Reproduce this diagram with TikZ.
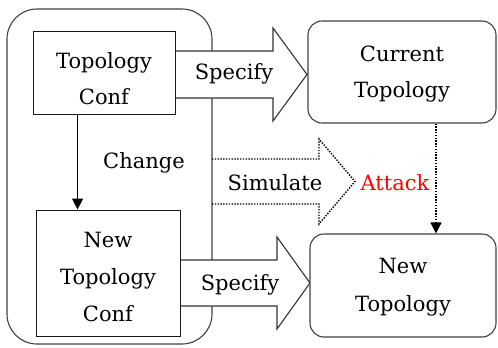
\documentclass[tikz,border=0pt]{standalone}
\usepackage{fontspec}
\newfontfamily\serf{DejaVu Serif}
\usetikzlibrary{arrows.meta}
\begin{document}
\begin{tikzpicture}[x=1pt,y=-1pt,
  line width=0.9pt,
  lbl/.style={font=\serf\fontsize{21}{36}\selectfont, align=center, inner sep=0pt},
  sqbox/.style={draw=black!90, fill=white},
  rbox/.style={draw=black!75, line width=1.1pt, fill=white, rounded corners=14pt},
  bigarrow/.style={draw=black!80, line width=1.1pt, fill=white, line join=miter},
  dotarrow/.style={draw=black, line width=1.4pt, dash pattern=on 1.4pt off 1.4pt},
  tip/.style={-{Triangle[width=11pt,length=11pt]}}
]
\useasboundingbox (0,0) rectangle (498,348);
% container
\draw[draw=black!75, line width=1.1pt, rounded corners=30pt] (7,9) rectangle (212,344);
% big arrows
\draw[bigarrow] (175,51) -- (273,51) -- (273,28) -- (307,74.5) -- (273,121) -- (273,98) -- (175,98) -- cycle;
\draw[bigarrow] (180,260) -- (277,260) -- (277,237) -- (310,283) -- (277,329) -- (277,306) -- (180,306) -- cycle;
\draw[dotarrow] (212,159) -- (319,159) -- (319,139) -- (355,181.5) -- (319,224) -- (319,204) -- (212,204);
% boxes
\node[sqbox, minimum width=142pt, minimum height=83pt] (tc) at (104,72.5) {};
\node[sqbox, minimum width=144pt, minimum height=126pt] (ntc) at (108,273) {};
\node[rbox, minimum width=188pt, minimum height=102pt] (ct) at (402,72) {};
\node[rbox, minimum width=186pt, minimum height=103pt] (nt) at (403,285.5) {};
% box texts
\node[lbl] (tct) at ([yshift=-6pt]tc.center) {Topology\\Conf};
\node[lbl, font=\serf\fontsize{21}{37}\selectfont] (ntct) at ([yshift=-4pt]ntc.center) {New\\Topology\\Conf};
\node[lbl] (ctt) at ([yshift=-2pt]ct.center) {Current\\Topology};
\node[lbl, font=\serf\fontsize{21}{38}\selectfont] (ntt) at ([yshift=-2pt]nt.center) {New\\Topology};
% labels
\node[lbl] (sp1) at (234,74) {Specify};
\node[lbl] (sp2) at (240,285) {Specify};
\node[lbl] (sim) at (275,183) {Simulate};
\node[lbl, text=red] (att) at (395,183) {Attack};
\node[lbl] (chg) at (144,163) {Change};
% connectors
\draw[tip] ([xshift=45pt]tc.south west) -- ([xshift=42pt]ntc.north west);
\draw[tip, dotarrow] ([xshift=34pt]ct.south) -- ([xshift=34pt]ct.south |- nt.north);
\end{tikzpicture}
\end{document}
